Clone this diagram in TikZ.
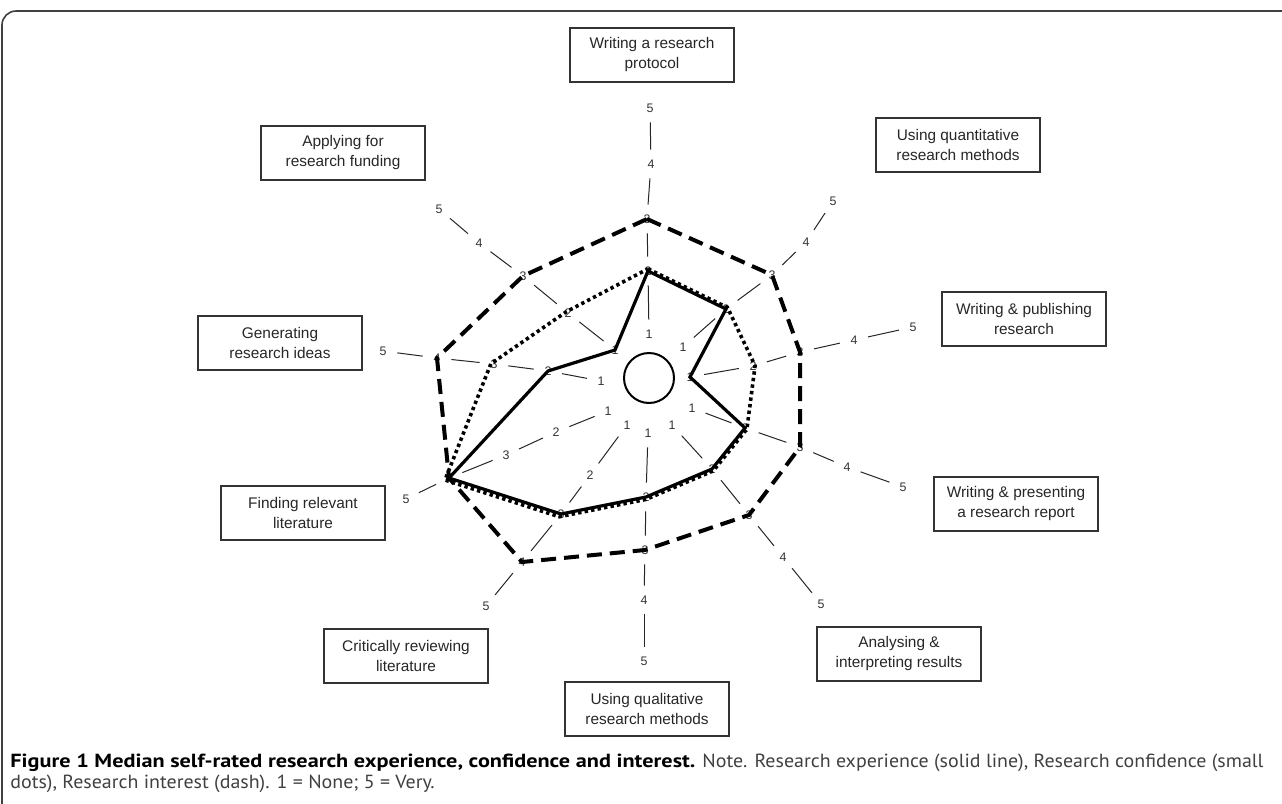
\documentclass[tikz,border=0pt]{standalone}
\usepackage{fontspec}
\setmainfont{Liberation Sans}
\newfontfamily\capbold[FakeStretch=1.17]{PT Sans}
\newfontfamily\capfont[FakeStretch=1.05]{PT Sans}
\usetikzlibrary{calc}

\tikzset{
  topic/.style={draw=black!80, line width=0.6pt, minimum width=82pt, minimum height=27pt,
    align=center, inner sep=1pt, font=\fontsize{7.7}{10}\selectfont, text=black!85},
  tick/.style={circle, inner sep=0pt, minimum size=9pt, font=\fontsize{6.2}{7}\selectfont, text=black!80},
  spokeline/.style={line width=0.5pt, black!85, shorten <=2.5pt, shorten >=2.5pt},
  experience/.style={line width=1.6pt, line join=miter},
  confidence/.style={line width=1.8pt, dash pattern=on 1.7pt off 1.6pt},
  interest/.style={line width=2pt, dash pattern=on 7.5pt off 4pt},
  frame/.style={line width=0.8pt, black!75, rounded corners=7pt},
  captext/.style={anchor=base west, inner sep=0pt, font=\fontsize{9.5}{10}\selectfont, text=black!75}
}

% one axis: five tick labels and the short lines between them
\newcommand{\spokeaxis}[6]{
  \node[tick] (#1-1) at (#2) {1};
  \node[tick] (#1-2) at (#3) {2};
  \node[tick] (#1-3) at (#4) {3};
  \node[tick] (#1-4) at (#5) {4};
  \node[tick] (#1-5) at (#6) {5};
  \foreach \i/\j in {1/2,2/3,3/4,4/5}
    \draw[spokeline] (#1-\i) -- (#1-\j);
}

\begin{document}
\begin{tikzpicture}[x=0.5pt, y=-0.5pt]
  \useasboundingbox (0,0) rectangle (1282,804);
  \draw[frame] (2,830) -- (2,11) -- (1310,11);

  % topics
  \node[topic] (proto) at (652,55)  {Writing a research\\protocol};
  \node[topic] (fund)  at (343,153) {Applying for\\research funding};
  \node[topic] (quant) at (958,145) {Using quantitative\\research methods};
  \node[topic] (gen)   at (280,343) {Generating\\research ideas};
  \node[topic] (publ)  at (1024,319) {Writing \& publishing\\research};
  \node[topic] (find)  at (303,513) {Finding relevant\\literature};
  \node[topic] (pres)  at (1016,504) {Writing \& presenting\\a research report};
  \node[topic] (crit)  at (406,656) {Critically reviewing\\literature};
  \node[topic] (anal)  at (899,654) {Analysing \&\\interpreting results};
  \node[topic] (qual)  at (647,709) {Using qualitative\\research methods};

  % axes
  \spokeaxis{proto}{649,334}{648,271}{647,219}{651,164}{650,108}
  \spokeaxis{quant}{683,347}{726,309}{772,275}{806,242}{833,201}
  \spokeaxis{publ}{690,377}{753,366}{800,352}{854,340}{913,327}
  \spokeaxis{pres}{692,408}{745,428}{800,447}{847,467}{903,487}
  \spokeaxis{anal}{672,425}{712,469}{749,515}{783,557}{821,604}
  \spokeaxis{qual}{648,433}{646,497}{645,550}{644,600}{644,661}
  \spokeaxis{crit}{627,425}{590,475}{561,514}{522,562}{486,606}
  \spokeaxis{find}{608,411}{556,432}{506,455}{449,478}{406,499}
  \spokeaxis{gen}{601,381}{548,371}{494,364}{437,358}{383,351}
  \spokeaxis{fund}{615,350}{568,313}{523,276}{479,243}{439,209}

  \node[circle, draw, line width=1pt, minimum size=25pt, inner sep=0pt] (hub) at (649,378) {};

  % interest (dash)
  \draw[interest] (proto-3.center) -- (quant-3.center) -- (publ-3.center) -- (pres-3.center)
    -- (anal-3.center) -- (qual-3.center) -- (crit-4.center) -- (find-4.center)
    -- (gen-4.center) -- (fund-3.center) -- cycle;
  % confidence (small dots)
  \draw[confidence] ($(hub)!1.02!(proto-2.center)$) -- ($(hub)!1.02!(quant-2.center)$)
    -- ($(hub)!1.02!(publ-2.center)$) -- ($(hub)!1.02!(pres-2.center)$)
    -- ($(hub)!1.02!(anal-2.center)$) -- ($(hub)!1.02!(qual-2.center)$)
    -- ($(hub)!1.02!(crit-3.center)$) -- ($(hub)!1.02!(find-4.center)$)
    -- ($(hub)!1.02!(gen-3.center)$) -- ($(hub)!1.02!(fund-2.center)$) -- cycle;
  % experience (solid)
  \draw[experience] (proto-2.center) -- (quant-2.center) -- (publ-1.center) -- (pres-2.center)
    -- (anal-2.center) -- (qual-2.center) -- (crit-3.center) -- (find-4.center)
    -- (gen-2.center) -- (fund-1.center) -- cycle;

  % caption
  \node[captext] (cap1) at (10,767)
    {{\capbold\bfseries\color{black}Figure 1 Median self-rated research experience, confidence and interest.} \capfont Note. Research experience (solid line), Research confidence (small};
  \node[captext] (cap2) at (10,788)
    {\capfont dots), Research interest (dash). 1 = None; 5 = Very.};
\end{tikzpicture}
\end{document}
